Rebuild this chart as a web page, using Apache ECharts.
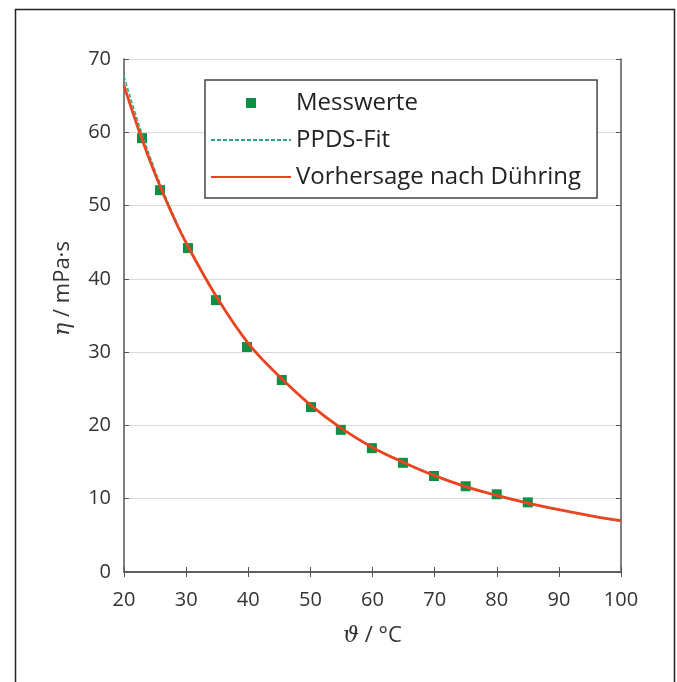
<!DOCTYPE html>
<html>
<head>
<meta charset="utf-8">
<script src="https://cdn.jsdelivr.net/npm/echarts@6/dist/echarts.min.js"></script>
<style>
html,body{margin:0;padding:0;background:#fff;}
#c{width:677px;height:682px;}
</style>
</head>
<body>
<div id="c"></div>
<script>
// Measured values (Messwerte)
const messTemp = [22.9, 25.8, 30.3, 34.8, 39.8, 45.4, 50.1, 54.9, 59.9, 64.9, 69.9, 75.0, 80.0, 85.0];
const messEta  = [59.2, 52.1, 44.2, 37.1, 30.7, 26.2, 22.5, 19.4, 16.9, 14.9, 13.1, 11.7, 10.6, 9.5];

// Curves
const curveTemp = [20, 22.5, 25, 27.5, 30, 35, 40, 45, 50, 55, 60, 65, 70, 75, 80, 85, 90, 95, 100];
const ppdsEta   = [67.6, 60.8, 54.8, 49.6, 45.1, 37.5, 31.3, 26.7, 22.8, 19.6, 17.0, 14.9, 13.1, 11.6, 10.4, 9.35, 8.45, 7.65, 6.9];
const duehEta   = [66.4, 60.0, 54.3, 49.3, 44.9, 37.4, 31.2, 26.7, 22.8, 19.6, 17.0, 14.95, 13.15, 11.65, 10.45, 9.4, 8.5, 7.7, 7.0];

const xTicks = [20, 30, 40, 50, 60, 70, 80, 90, 100];
const yTicks = [0, 10, 20, 30, 40, 50, 60, 70];

const seriesNames = ['Messwerte', 'PPDS-Fit', 'Vorhersage nach Dühring'];

const zip = (a, b) => a.map((v, i) => [v, b[i]]);

const FONT = '"Open Sans", "DejaVu Sans", sans-serif';
const AX = '#555';

const chart = echarts.init(document.getElementById('c'), null, {renderer: 'canvas'});
chart.setOption({
  backgroundColor: '#fff',
  animation: false,
  textStyle: {fontFamily: FONT},
  grid: {left: 124, right: 56, top: 59, bottom: 110, show: false},
  legend: {
    left: 205, top: 80,
    orient: 'vertical',
    padding: [11, 16, 9, 5],
    itemGap: 13,
    itemWidth: 80,
    itemHeight: 10,
    itemTextGap: 10,
    borderColor: '#444',
    borderWidth: 1.5,
    backgroundColor: '#fff',
    textStyle: {fontSize: 24, color: '#222', fontFamily: FONT},
    data: [
      {name: seriesNames[0], icon: 'path://M0,0h1v1h-1z'},
      {name: seriesNames[1], itemStyle: {opacity: 0}},
      {name: seriesNames[2], itemStyle: {opacity: 0}}
    ]
  },
  xAxis: [{
    type: 'value', min: xTicks[0], max: xTicks[xTicks.length - 1], interval: 10,
    position: 'bottom',
    name: '{i|ϑ} / °C', nameLocation: 'middle', nameGap: 53,
    nameTextStyle: {fontSize: 22, color: '#333', rich: {i: {fontStyle: 'italic', fontSize: 22, fontFamily: '"DejaVu Serif", serif'}}},
    axisLine: {show: true, lineStyle: {color: AX, width: 1.5}},
    axisTick: {show: true, inside: true, length: 5, lineStyle: {color: AX}},
    axisLabel: {fontSize: 20, color: '#333', margin: 18},
    splitLine: {show: false}
  }, {
    type: 'value', min: xTicks[0], max: xTicks[xTicks.length - 1], interval: 10,
    position: 'top',
    axisLine: {show: true, lineStyle: {color: AX, width: 1.5}},
    axisTick: {show: true, inside: true, length: 5, lineStyle: {color: AX}},
    axisLabel: {show: false},
    splitLine: {show: false}
  }],
  yAxis: [{
    type: 'value', min: yTicks[0], max: yTicks[yTicks.length - 1], interval: 10,
    position: 'left',
    name: '{i|η} / mPa·s', nameLocation: 'middle', nameGap: 50, nameRotate: 90,
    nameTextStyle: {fontSize: 22, color: '#333', padding: [0, 0, 0, 54], rich: {i: {fontStyle: 'italic', fontSize: 22, fontFamily: '"DejaVu Serif", serif'}}},
    axisLine: {show: true, lineStyle: {color: AX, width: 1.5}},
    axisTick: {show: true, inside: true, length: 5, lineStyle: {color: AX}},
    axisLabel: {fontSize: 20, color: '#333', margin: 13},
    splitLine: {show: true, lineStyle: {color: '#d9d9d9', width: 1.2}}
  }, {
    type: 'value', min: yTicks[0], max: yTicks[yTicks.length - 1], interval: 10,
    position: 'right',
    axisLine: {show: true, lineStyle: {color: AX, width: 1.5}},
    axisTick: {show: true, inside: true, length: 5, lineStyle: {color: AX}},
    axisLabel: {show: false},
    splitLine: {show: false}
  }],
  series: [{
    name: seriesNames[0],
    type: 'scatter',
    symbol: 'rect',
    symbolSize: 10,
    itemStyle: {color: '#0e8f43', opacity: 1},
    data: zip(messTemp, messEta),
    z: 3
  }, {
    name: seriesNames[1],
    type: 'line',
    smooth: 0.4,
    symbol: 'none',
    lineStyle: {color: '#2fa878', width: 1.5, type: [4, 2]},
    itemStyle: {color: '#2fa878'},
    data: zip(curveTemp, ppdsEta),
    z: 4
  }, {
    name: seriesNames[2],
    type: 'line',
    smooth: 0.4,
    symbol: 'none',
    lineStyle: {color: '#ea4420', width: 2.8},
    itemStyle: {color: '#ea4420'},
    data: zip(curveTemp, duehEta),
    z: 5
  }],
  graphic: [{
    type: 'rect',
    left: 13, top: 7,
    shape: {width: 659, height: 700},
    style: {fill: 'none', stroke: '#222', lineWidth: 1.5},
    silent: true
  }]
});
</script>
</body>
</html>
